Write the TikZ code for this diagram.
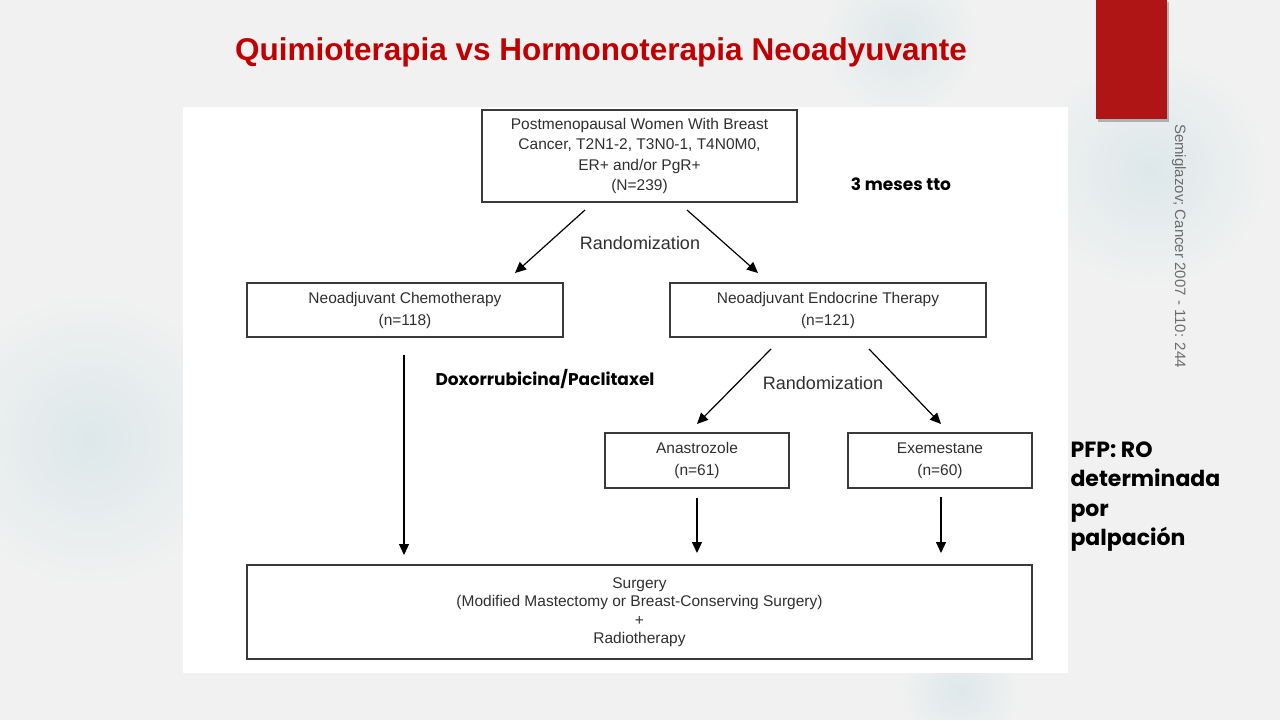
\documentclass[tikz,border=0pt]{standalone}
\usepackage{fontspec}
\setmainfont{Liberation Sans}
\newfontfamily\gothic{Poppins}
\usetikzlibrary{arrows.meta}
\definecolor{bg}{HTML}{F1F1F1}
\definecolor{redbar}{HTML}{B01515}
\definecolor{titlered}{HTML}{C00000}
\definecolor{ink}{HTML}{2F2F2F}
\definecolor{boxline}{HTML}{3A3A3A}
\definecolor{blob}{HTML}{DDE8EA}
\tikzset{
  flowbox/.style={draw=boxline, line width=1.2pt, fill=white, inner sep=0pt, align=center,
    text=ink, font=\fontsize{15.5}{22}\selectfont},
  arr/.style={draw=black, line width=1.2pt, -{Triangle[length=11pt,width=10pt]}},
  randlbl/.style={text=ink, font=\fontsize{18}{20}\selectfont},
  note/.style={font=\gothic\bfseries\fontsize{17}{20}\selectfont, text=black},
  softblob/.style={inner color=blob, outer color=bg},
}
\begin{document}
\begin{tikzpicture}[x=1pt,y=-1pt]
\useasboundingbox (0,0) rectangle (1280,720);
\fill[bg] (0,0) rectangle (1280,720);
% faint soft background blobs
\shade[softblob] (90,440) circle (150);
\shade[softblob] (1150,170) circle (120);
\shade[softblob] (960,690) circle (60);
\shade[softblob] (900,40) circle (80);
% white panel
\fill[white] (183,107) rectangle (1068,673);
% red bar with shadow
\fill[black, opacity=0.25] (1098,2) rectangle (1169,122);
\fill[redbar] (1096,0) rectangle (1167,119);
% title
\node[font=\bfseries\fontsize{31.5}{34}\selectfont, text=titlered] (title) at (601,52) {Quimioterapia vs Hormonoterapia Neoadyuvante};
% rotated reference
\node[rotate=-90, text=gray!85!black, font=\fontsize{15}{16}\selectfont] (ref) at (1179,246) {Semiglazov; Cancer 2007 - 110: 244};
% boxes
\node[flowbox, minimum width=315pt, minimum height=92pt, font=\fontsize{15.5}{20.5}\selectfont] (top) at (639.5,156)
  {\raisebox{-3pt}{\parbox{300pt}{\centering Postmenopausal Women With Breast\\Cancer, T2N1-2, T3N0-1, T4N0M0,\\ER+ and/or PgR+\\(N=239)}}};
\node[flowbox, minimum width=316pt, minimum height=54pt] (chemo) at (405,310)
  {Neoadjuvant Chemotherapy\\(n=118)};
\node[flowbox, minimum width=316pt, minimum height=54pt] (endo) at (828,310)
  {Neoadjuvant Endocrine Therapy\\(n=121)};
\node[flowbox, minimum width=184pt, minimum height=55pt] (ana) at (697,460.5)
  {Anastrozole\\(n=61)};
\node[flowbox, minimum width=184pt, minimum height=55pt] (exe) at (940,460.5)
  {Exemestane\\(n=60)};
\node[flowbox, minimum width=785pt, minimum height=94pt, font=\fontsize{15.5}{18.5}\selectfont] (surg) at (639.5,612)
  {Surgery\\(Modified Mastectomy or Breast-Conserving Surgery)\\+\\Radiotherapy};
% labels
\node[randlbl] (r1) at (640,243) {Randomization};
\node[randlbl] (r2) at (823,383) {Randomization};
\node[note] (meses) at (901,184) {3 meses tto};
\node[note] (doxo) at (545,379) {Doxorrubicina/Paclitaxel};
\node[note, font=\gothic\bfseries\fontsize{22}{29.5}\selectfont, align=left, anchor=north west] (pfp) at (1067,438)
  {PFP: RO\\determinada\\por\\palpación};
% connector end points
\coordinate (t1) at (585,210); \coordinate (c1) at (515,273);
\coordinate (t2) at (687,210); \coordinate (e1) at (758,273);
\coordinate (e2) at (771,349); \coordinate (a1) at (697,424);
\coordinate (e3) at (869,349); \coordinate (x1) at (941,424);
\coordinate (c2) at (404,355); \coordinate (s1) at (404,555);
\coordinate (a2) at (697,498); \coordinate (s2) at (697,553);
\coordinate (x2) at (941,497); \coordinate (s3) at (941,553);
\draw[arr] (t1) -- (c1);
\draw[arr] (t2) -- (e1);
\draw[arr] (e2) -- (a1);
\draw[arr] (e3) -- (x1);
\draw[arr] (c2) -- (s1);
\draw[arr] (a2) -- (s2);
\draw[arr] (x2) -- (s3);
\end{tikzpicture}
\end{document}
